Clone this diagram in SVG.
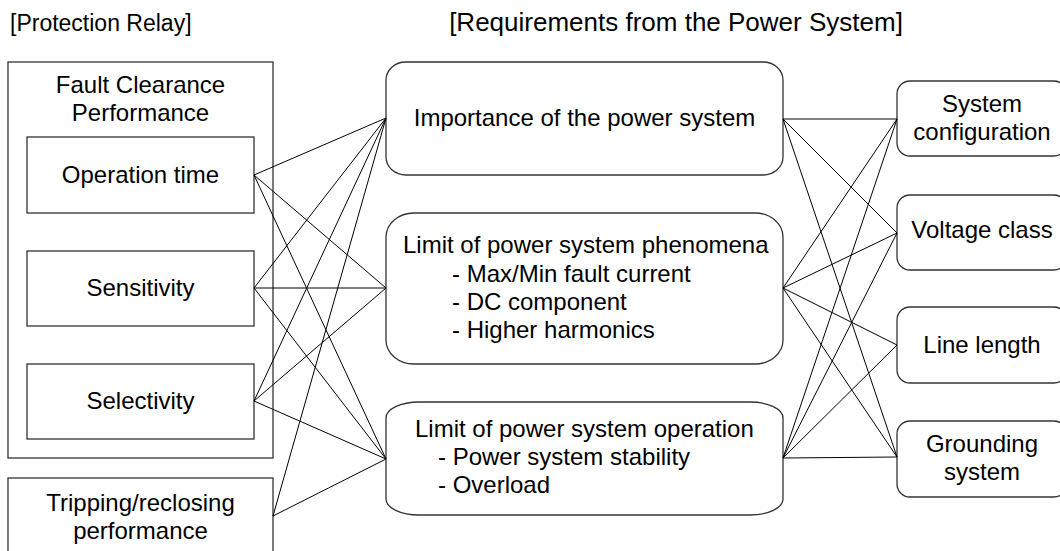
<svg xmlns="http://www.w3.org/2000/svg" width="1060" height="551" viewBox="0 0 1060 551">
  <style>
    text { font-family: "Liberation Sans", Arial, sans-serif; font-size: 24px; fill: #000; }
    .c { text-anchor: middle; }
    .box { fill: #fff; stroke: #333; stroke-width: 1.3; }
    .link { stroke: #000; stroke-width: 1; fill: none; }
  </style>

  <!-- headings -->
  <text id="title-relay" x="10" y="31" style="font-size:23px">[Protection Relay]</text>
  <text id="title-req" x="676" y="31" class="c" style="font-size:26px">[Requirements from the Power System]</text>

  <!-- protection relay side -->
  <g id="fault-clearance">
    <rect class="box" x="8" y="62" width="265" height="396"/>
    <text class="c" x="140.5" y="93">Fault Clearance</text>
    <text class="c" x="140.5" y="121">Performance</text>
  </g>
  <g id="operation-time">
    <rect class="box" x="27" y="137" width="227" height="76"/>
    <text class="c" x="140.5" y="183">Operation time</text>
  </g>
  <g id="sensitivity">
    <rect class="box" x="27" y="251" width="227" height="75"/>
    <text class="c" x="140.5" y="296">Sensitivity</text>
  </g>
  <g id="selectivity">
    <rect class="box" x="27" y="364" width="227" height="75"/>
    <text class="c" x="140.5" y="409">Selectivity</text>
  </g>
  <g id="tripping">
    <rect class="box" x="8" y="478" width="265" height="76"/>
    <text class="c" x="140.5" y="511">Tripping/reclosing</text>
    <text class="c" x="140.5" y="539">performance</text>
  </g>

  <!-- power system requirements -->
  <g id="importance">
    <rect class="box" x="386" y="62" width="397" height="113" rx="20" ry="18"/>
    <text class="c" x="584.5" y="126">Importance of the power system</text>
  </g>
  <g id="phenomena">
    <rect class="box" x="386" y="213" width="397" height="151" rx="28" ry="24"/>
    <text x="403" y="253">Limit of power system phenomena</text>
    <text x="452" y="282">- Max/Min fault current</text>
    <text x="452" y="310">- DC component</text>
    <text x="452" y="338">- Higher harmonics</text>
  </g>
  <g id="operation">
    <rect class="box" x="386" y="402" width="397" height="113" rx="33" ry="16"/>
    <text x="415" y="437">Limit of power system operation</text>
    <text x="438" y="465">- Power system stability</text>
    <text x="438" y="493">- Overload</text>
  </g>

  <!-- system attributes -->
  <g id="system-configuration">
    <rect class="box" x="897" y="81" width="170" height="75" rx="13" ry="13"/>
    <text class="c" x="982" y="112">System</text>
    <text class="c" x="982" y="140">configuration</text>
  </g>
  <g id="voltage-class">
    <rect class="box" x="897" y="195" width="170" height="75" rx="13" ry="13"/>
    <text class="c" x="982" y="238">Voltage class</text>
  </g>
  <g id="line-length">
    <rect class="box" x="897" y="307" width="170" height="76" rx="13" ry="13"/>
    <text class="c" x="982" y="353">Line length</text>
  </g>
  <g id="grounding-system">
    <rect class="box" x="897" y="421" width="170" height="76" rx="13" ry="13"/>
    <text class="c" x="982" y="452">Grounding</text>
    <text class="c" x="982" y="480">system</text>
  </g>

  <!-- connectors -->
  <g id="connectors" class="link">
    <!-- relay performance to requirements -->
    <line x1="254" y1="175" x2="386" y2="118"/>
    <line x1="254" y1="175" x2="386" y2="288"/>
    <line x1="254" y1="175" x2="386" y2="459"/>
    <line x1="254" y1="288" x2="386" y2="118"/>
    <line x1="254" y1="288" x2="386" y2="288"/>
    <line x1="254" y1="288" x2="386" y2="459"/>
    <line x1="254" y1="401" x2="386" y2="118"/>
    <line x1="254" y1="401" x2="386" y2="288"/>
    <line x1="254" y1="401" x2="386" y2="459"/>
    <line x1="273" y1="516" x2="386" y2="118"/>
    <line x1="273" y1="516" x2="386" y2="459"/>
    <!-- requirements to system attributes -->
    <line x1="783" y1="119" x2="897" y2="119"/>
    <line x1="783" y1="119" x2="897" y2="233"/>
    <line x1="783" y1="119" x2="897" y2="457"/>
    <line x1="783" y1="288" x2="897" y2="119"/>
    <line x1="783" y1="288" x2="897" y2="233"/>
    <line x1="783" y1="288" x2="897" y2="345"/>
    <line x1="783" y1="288" x2="897" y2="457"/>
    <line x1="783" y1="458" x2="897" y2="119"/>
    <line x1="783" y1="458" x2="897" y2="233"/>
    <line x1="783" y1="458" x2="897" y2="345"/>
    <line x1="783" y1="458" x2="897" y2="457"/>
  </g>
</svg>
